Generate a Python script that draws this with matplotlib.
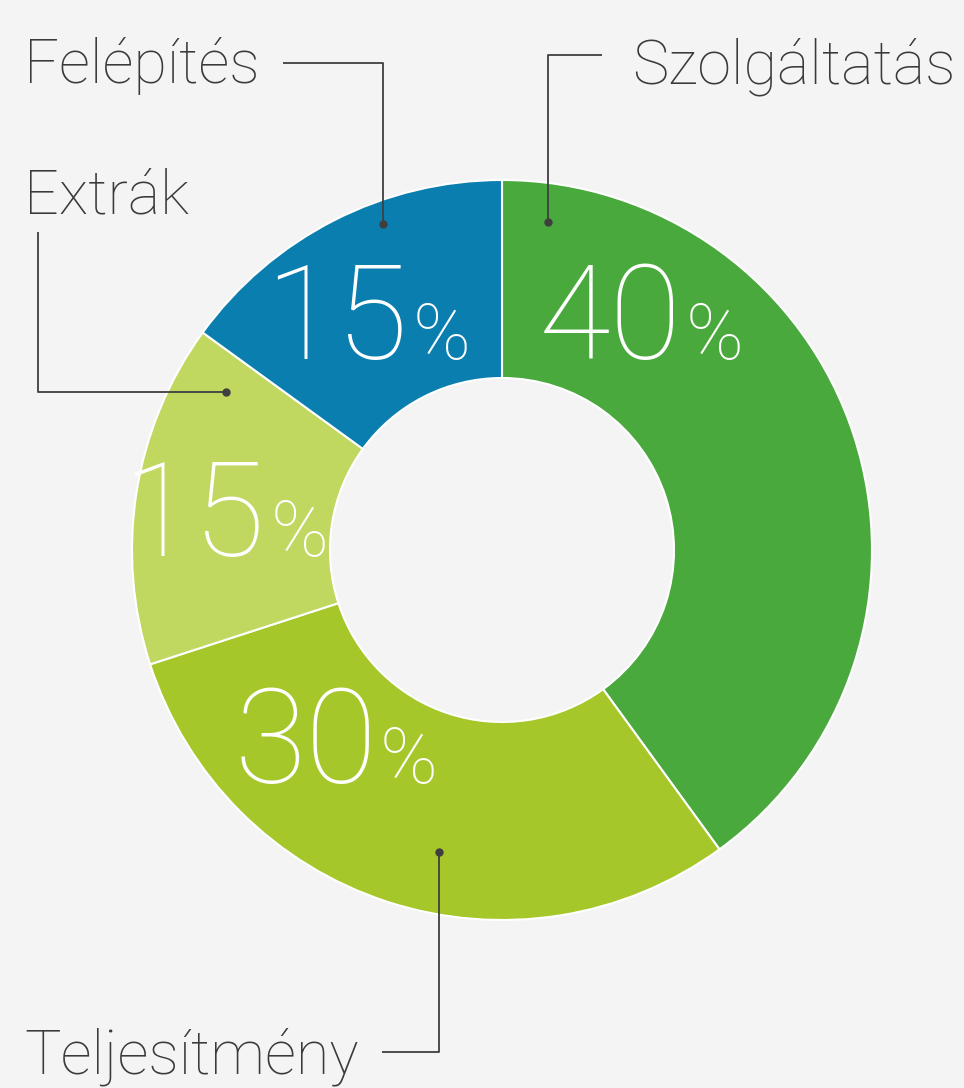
import matplotlib
matplotlib.use("Agg")
import matplotlib.pyplot as plt

categories = ["Szolgáltatás", "Teljesítmény", "Extrák", "Felépítés"]
values = [40, 30, 15, 15]
colors = ["#4aa93c", "#a6c72a", "#c0d760", "#0a7eae"]

W, H = 964, 1088
fig = plt.figure(figsize=(W / 100, H / 100), dpi=100)
fig.patch.set_facecolor("#f4f4f4")
ax = fig.add_axes([0, 0, 1, 1])

def py(y):
    return H - y

cx, cy, R = 502, py(550), 370
ax.pie(values, colors=colors, startangle=90, counterclock=False,
       radius=R, center=(cx, cy), frame=True,
       wedgeprops=dict(width=R - 172, edgecolor="white", linewidth=1.5))
ax.set_xlim(0, W)
ax.set_ylim(0, H)
ax.set_aspect("equal")
ax.axis("off")

FONT = ["Roboto", "DejaVu Sans"]

# percentage labels: (x of number right edge, x of % left edge, baseline y in px)
pct_pos = {
    "Szolgáltatás": (682, 686, 359),
    "Felépítés": (408, 413, 359),
    "Extrák": (265, 271, 556),
    "Teljesítmény": (377, 380, 783),
}
for cat, val in zip(categories, values):
    xn, xp, y = pct_pos[cat]
    ax.text(xn, py(y), f"{val}", fontsize=94, color="white", family=FONT,
            fontweight="light", ha="right", va="baseline")
    ax.text(xp, py(y), "%", fontsize=56, color="white", family=FONT,
            fontweight="light", ha="left", va="baseline")

# category labels
lab_pos = {
    "Felépítés": (24, 83, "left"),
    "Szolgáltatás": (956, 83, "right"),
    "Extrák": (24, 213, "left"),
    "Teljesítmény": (24, 1074, "left"),
}
for cat in categories:
    x, y, ha = lab_pos[cat]
    ax.text(x, py(y), cat, fontsize=44, color="#3a3a3a", family=FONT,
            fontweight="light", ha=ha, va="baseline")

# leader lines
leaders = {
    "Felépítés": [(283, 63), (383, 63), (383, 224)],
    "Szolgáltatás": [(602, 55), (548, 55), (548, 222)],
    "Extrák": [(38, 232), (38, 392), (226, 392)],
    "Teljesítmény": [(382, 1052), (439, 1052), (439, 852)],
}
for cat in categories:
    pts = leaders[cat]
    xs = [p[0] for p in pts]
    ys = [py(p[1]) for p in pts]
    ax.plot(xs, ys, color="#3f3f3f", lw=1.3, solid_capstyle="butt")
    ax.plot(xs[-1], ys[-1], "o", ms=5, mfc="#3f3f3f", mec="#3f3f3f")

fig.savefig("out.png", dpi=100, facecolor=fig.get_facecolor())
